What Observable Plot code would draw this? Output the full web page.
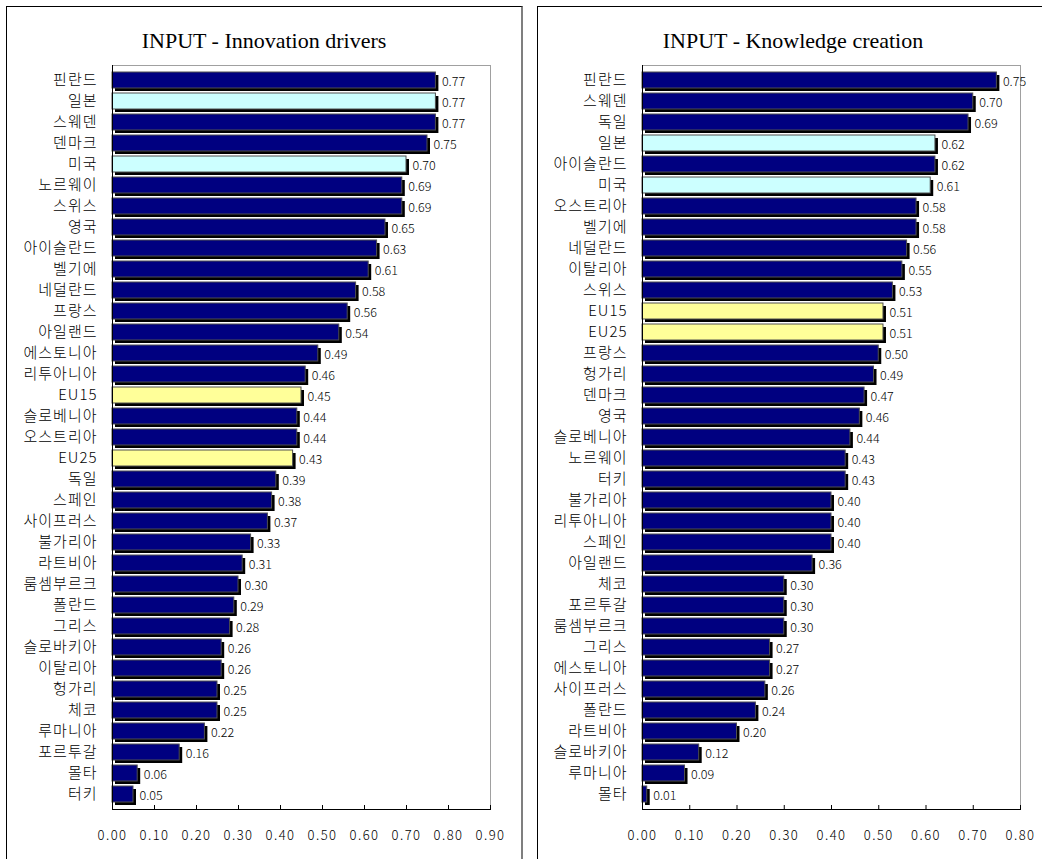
<!DOCTYPE html>
<html>
<head>
<meta charset="utf-8">
<script src="https://cdn.jsdelivr.net/npm/d3@7"></script>
<script src="https://cdn.jsdelivr.net/npm/@observablehq/plot@0.6"></script>
<style>
  html, body { margin: 0; padding: 0; background: #fff; }
  body { width: 1042px; height: 859px; overflow: hidden; position: relative; }
  .panel { position: absolute; top: 6px; height: 900px; border-left: 1px solid #000; border-top: 1px solid #000; box-sizing: content-box; }
  .title { position: absolute; top: 22px; left: 0; text-align: center; font-family: "Liberation Serif", serif; font-size: 22px; line-height: 24px; color: #000; white-space: nowrap; }
  .chart { position: absolute; top: 46px; left: 0; }
  .chart svg text { fill: #000; font-weight: 300; }
  .ylab text { letter-spacing: 1px; }
  .xlab text { letter-spacing: 1.5px; }
</style>
</head>
<body>
<div class="panel" id="p1" style="left:6px; width:514px; border-right:2px solid #7f7f7f;">
  <div class="title" style="width:514px;">INPUT - Innovation drivers</div>
  <div class="chart" id="c1"></div>
</div>
<div class="panel" id="p2" style="left:537px; width:520px;">
  <div class="title" style="width:510px;">INPUT - Knowledge creation</div>
  <div class="chart" id="c2"></div>
</div>
<script>
// Left chart: INPUT - Innovation drivers
const driversCategories = ["핀란드","일본","스웨덴","덴마크","미국","노르웨이","스위스","영국","아이슬란드","벨기에","네덜란드","프랑스","아일랜드","에스토니아","리투아니아","EU15","슬로베니아","오스트리아","EU25","독일","스페인","사이프러스","불가리아","라트비아","룸셈부르크","폴란드","그리스","슬로바키아","이탈리아","헝가리","체코","루마니아","포르투갈","몰타","터키"];
const driversValues = [0.77,0.77,0.77,0.75,0.70,0.69,0.69,0.65,0.63,0.61,0.58,0.56,0.54,0.49,0.46,0.45,0.44,0.44,0.43,0.39,0.38,0.37,0.33,0.31,0.30,0.29,0.28,0.26,0.26,0.25,0.25,0.22,0.16,0.06,0.05];
const driversTicks = [0,0.1,0.2,0.3,0.4,0.5,0.6,0.7,0.8,0.9];

// Right chart: INPUT - Knowledge creation
const knowledgeCategories = ["핀란드","스웨덴","독일","일본","아이슬란드","미국","오스트리아","벨기에","네덜란드","이탈리아","스위스","EU15","EU25","프랑스","헝가리","덴마크","영국","슬로베니아","노르웨이","터키","불가리아","리투아니아","스페인","아일랜드","체코","포르투갈","룸셈부르크","그리스","에스토니아","사이프러스","폴란드","라트비아","슬로바키아","루마니아","몰타"];
const knowledgeValues = [0.75,0.70,0.69,0.62,0.62,0.61,0.58,0.58,0.56,0.55,0.53,0.51,0.51,0.50,0.49,0.47,0.46,0.44,0.43,0.43,0.40,0.40,0.40,0.36,0.30,0.30,0.30,0.27,0.27,0.26,0.24,0.20,0.12,0.09,0.01];
const knowledgeTicks = [0,0.1,0.2,0.3,0.4,0.5,0.6,0.7,0.8];

const cyanGroup = ["일본","미국"];
const yellowGroup = ["EU15","EU25"];

function colorFor(name) {
  if (cyanGroup.includes(name)) return "#ccffff";
  if (yellowGroup.includes(name)) return "#ffff99";
  return "#000080";
}

function makeChart(categories, values, ticks, width, marginLeft, marginRight) {
  const data = categories.map((c, i) => ({name: c, value: values[i], color: colorFor(c)}));
  const height = 801, marginTop = 12, marginBottom = 45;
  const plotH = height - marginTop - marginBottom;
  const fmt = d3.format(".2f");
  return Plot.plot({
    width, height, marginTop, marginBottom, marginLeft, marginRight,
    style: {fontFamily: "'Noto Sans CJK KR', sans-serif", fontSize: "12px", color: "#000", background: "#fff"},
    x: {domain: [0, ticks[ticks.length - 1]], label: null},
    y: {domain: categories, paddingInner: 0.25, paddingOuter: 0.125, label: null},
    color: {type: "identity"},
    marks: [
      Plot.frame({stroke: "#a0a0a0"}),
      Plot.barX(data, {x: "value", y: "name", fill: "#000", dx: 3, dy: 3}),
      Plot.barX(data, {x: "value", y: "name", fill: "color", stroke: "#505050", strokeWidth: 1}),
      Plot.text(data, {x: "value", y: "name", text: d => fmt(d.value), textAnchor: "start", dx: 6, dy: 1, fontSize: 12.5}),
      Plot.ruleX(ticks, {stroke: "#000", insetTop: plotH - 4}),
      Plot.ruleX([0], {stroke: "#000"}),
      Plot.frame({anchor: "bottom", stroke: "#000"}),
      Plot.axisY({tickSize: 0, tickPadding: 15, fontSize: 15, label: null, className: "ylab"}),
      Plot.axisX({ticks, tickFormat: fmt, tickSize: 0, tickPadding: 21, fontSize: 13, label: null, className: "xlab"})
    ]
  });
}

document.getElementById("c1").append(makeChart(driversCategories, driversValues, driversTicks, 514, 105, 31));
document.getElementById("c2").append(makeChart(knowledgeCategories, knowledgeValues, knowledgeTicks, 504, 104, 22));
</script>
</body>
</html>
